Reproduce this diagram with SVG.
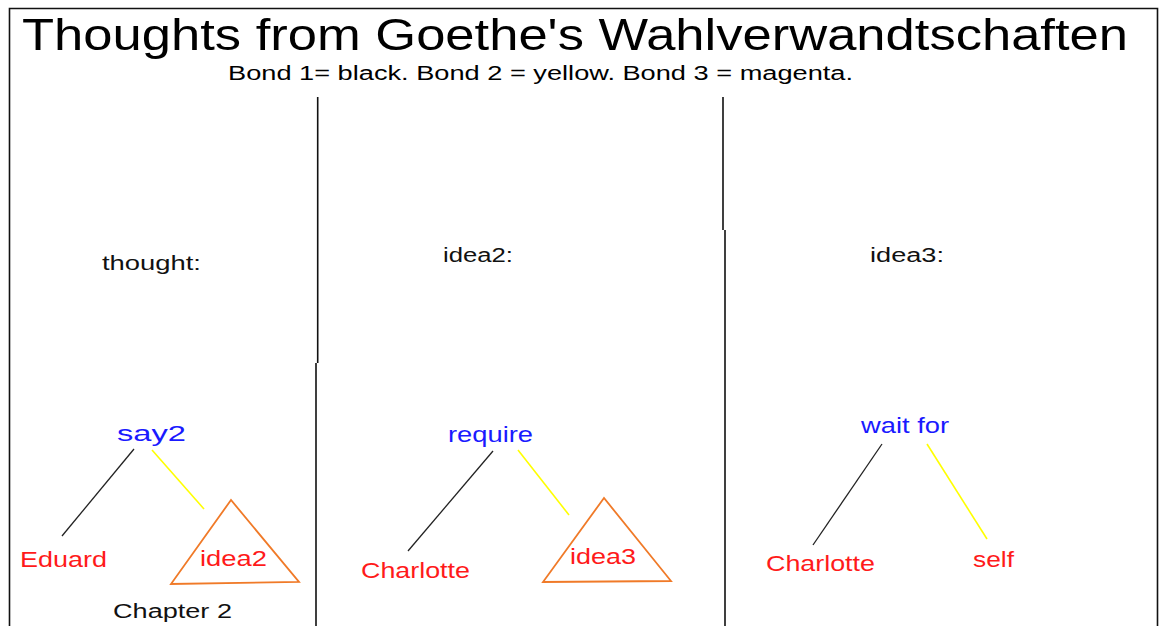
<svg xmlns="http://www.w3.org/2000/svg" width="1166" height="626" viewBox="0 0 1166 626">
<style>
text{font-family:"Liberation Sans",Arial,sans-serif}
.t{font-size:45px;fill:#000}
.s{font-size:20px;fill:#000}
.h{font-size:20px;fill:#111}
.v{font-size:22px;fill:#1a1aff}
.n{font-size:22px;fill:#ff1a1a}
.b1{stroke:#222;stroke-width:1.3;fill:none}
.b2{stroke:#ffff00;stroke-width:1.6;fill:none}
.tri{stroke:#f07a28;stroke-width:1.8;fill:none;stroke-linejoin:miter}
.div{stroke:#111;stroke-width:1.6;fill:none}
</style>
<rect width="1166" height="626" fill="#fff"/>
<g id="frame">
<path d="M9.5,640 V8.5 H1157.5 V640" class="div"/>
<path d="M317.7,97 V363 M316,363 V626 M723,97 V230 M725,230 V626" class="div"/>
</g>
<g id="title">
<text class="t" x="22" y="50" textLength="1106" lengthAdjust="spacingAndGlyphs">Thoughts from Goethe's Wahlverwandtschaften</text>
<text class="s" x="228" y="80" textLength="625" lengthAdjust="spacingAndGlyphs">Bond 1= black. Bond 2 = yellow. Bond 3 = magenta.</text>
</g>
<g id="head-thought"><text class="h" x="102" y="270" textLength="99" lengthAdjust="spacingAndGlyphs">thought:</text></g>
<g id="head-idea2"><text class="h" x="443" y="262" textLength="70" lengthAdjust="spacingAndGlyphs">idea2:</text></g>
<g id="head-idea3"><text class="h" x="870" y="262" textLength="74" lengthAdjust="spacingAndGlyphs">idea3:</text></g>
<g id="connectors">
<line x1="134" y1="449" x2="62" y2="536" class="b1"/>
<line x1="152" y1="450" x2="204" y2="509" class="b2"/>
<line x1="493" y1="451" x2="408" y2="551" class="b1"/>
<line x1="518" y1="450" x2="569" y2="515" class="b2"/>
<line x1="882" y1="444" x2="813" y2="545" class="b1"/>
<line x1="927" y1="444" x2="987" y2="539" class="b2"/>
</g>
<g id="say2"><text class="v" x="117" y="441" textLength="69" lengthAdjust="spacingAndGlyphs">say2</text></g>
<g id="eduard"><text class="n" x="20" y="567" textLength="87" lengthAdjust="spacingAndGlyphs">Eduard</text></g>
<g id="idea2">
<polygon points="231,500 171,584 299,582" class="tri"/>
<text class="n" x="200" y="566" textLength="67" lengthAdjust="spacingAndGlyphs">idea2</text>
</g>
<g id="chapter"><text class="h" x="113" y="618" textLength="119" lengthAdjust="spacingAndGlyphs">Chapter 2</text></g>
<g id="require"><text class="v" x="448" y="442" textLength="85" lengthAdjust="spacingAndGlyphs">require</text></g>
<g id="charlotte1"><text class="n" x="361" y="578" textLength="109" lengthAdjust="spacingAndGlyphs">Charlotte</text></g>
<g id="idea3">
<polygon points="604,498 543,582 671,581" class="tri"/>
<text class="n" x="570" y="564" textLength="66" lengthAdjust="spacingAndGlyphs">idea3</text>
</g>
<g id="waitfor"><text class="v" x="861" y="433" textLength="88" lengthAdjust="spacingAndGlyphs">wait for</text></g>
<g id="charlotte2"><text class="n" x="766" y="571" textLength="109" lengthAdjust="spacingAndGlyphs">Charlotte</text></g>
<g id="self"><text class="n" x="973" y="567" textLength="41" lengthAdjust="spacingAndGlyphs">self</text></g>
</svg>
